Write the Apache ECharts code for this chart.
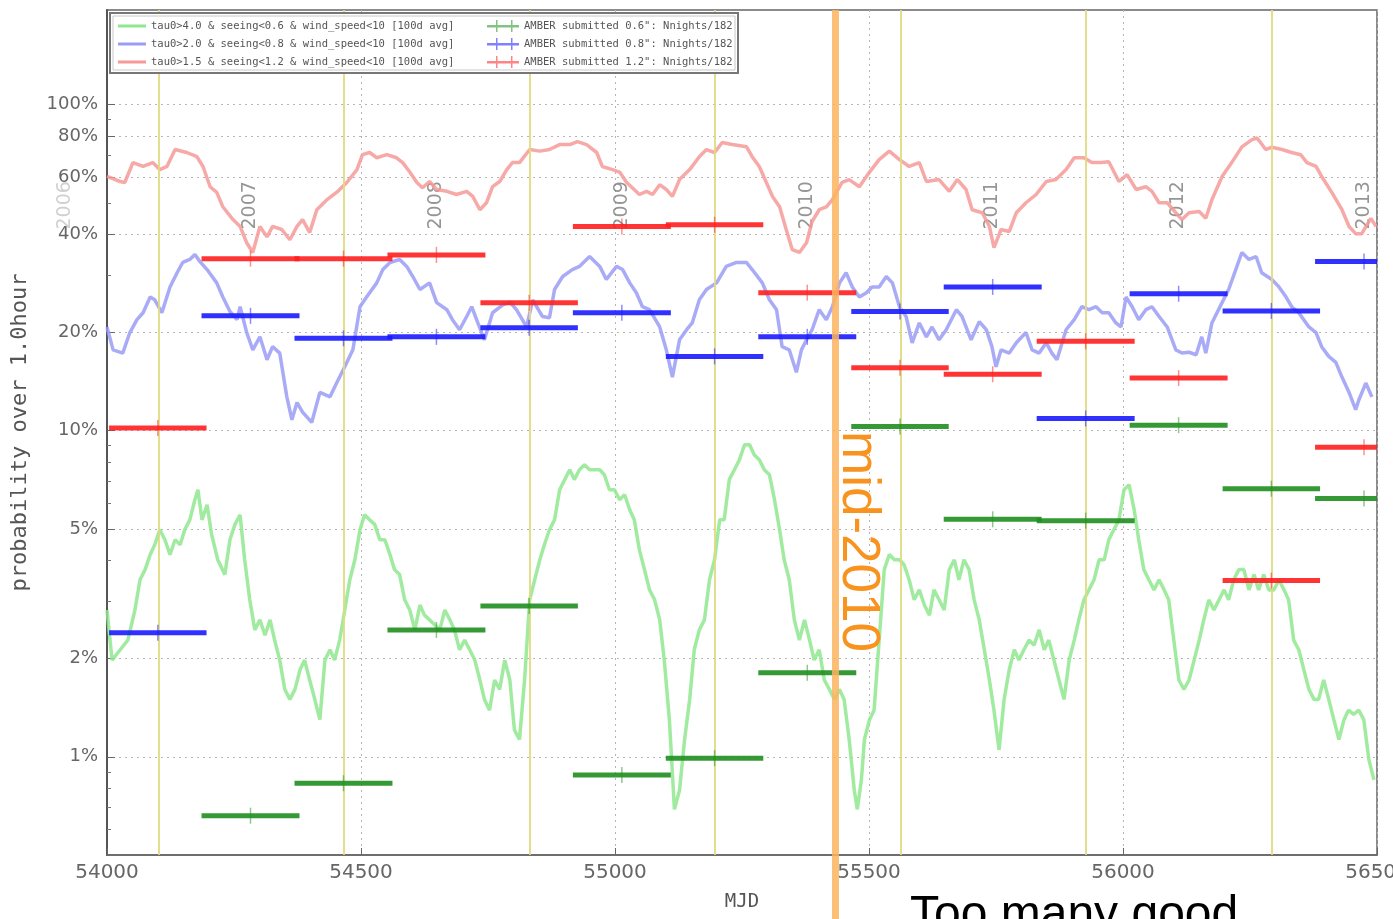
<!DOCTYPE html>
<html>
<head>
<meta charset="utf-8">
<script src="https://cdn.jsdelivr.net/npm/echarts@6/dist/echarts.min.js"></script>
<style>
  html, body { margin: 0; padding: 0; background: #fff; overflow: hidden; }
  #chart { width: 1393px; height: 919px; }
</style>
</head>
<body>
<div id="chart"></div>
<script>
// ---- 100-day running probabilities, [MJD, percent] ----
const greenCurve = [[54000,2.82],[54010,1.98],[54026,2.13],[54041,2.28],[54055,2.82],[54065,3.49],[54075,3.75],[54085,4.17],[54094,4.47],[54104,4.97],[54114,4.63],[54124,4.17],[54134,4.63],[54144,4.47],[54153,4.97],[54163,5.33],[54173,6.14],[54179,6.59],[54187,5.33],[54197,5.93],[54206,4.80],[54218,4.02],[54232,3.62],[54242,4.63],[54252,5.16],[54262,5.52],[54271,4.02],[54281,3.03],[54291,2.45],[54301,2.63],[54311,2.36],[54321,2.63],[54330,2.28],[54340,1.98],[54350,1.61],[54360,1.50],[54370,1.61],[54380,1.85],[54389,1.98],[54399,1.72],[54409,1.50],[54419,1.30],[54429,1.98],[54439,2.13],[54448,1.98],[54458,2.28],[54468,2.82],[54478,3.49],[54488,4.02],[54498,4.97],[54507,5.52],[54517,5.33],[54527,5.16],[54537,4.63],[54547,4.63],[54557,4.17],[54566,3.75],[54576,3.62],[54586,3.03],[54596,2.82],[54606,2.45],[54616,2.92],[54625,2.72],[54635,2.63],[54645,2.54],[54655,2.45],[54665,2.82],[54675,2.63],[54684,2.45],[54694,2.13],[54704,2.28],[54714,2.13],[54724,1.98],[54734,1.72],[54743,1.50],[54753,1.39],[54763,1.72],[54773,1.61],[54783,1.98],[54793,1.72],[54802,1.21],[54812,1.13],[54822,1.72],[54832,3.03],[54842,3.49],[54852,4.02],[54861,4.47],[54871,4.97],[54881,5.33],[54891,6.59],[54901,7.08],[54911,7.59],[54920,7.08],[54930,7.59],[54940,7.86],[54950,7.59],[54960,7.59],[54970,7.59],[54979,7.33],[54989,6.59],[54999,6.59],[55009,6.14],[55019,6.36],[55029,5.72],[55038,5.33],[55048,4.31],[55058,3.75],[55068,3.25],[55078,3.03],[55088,2.63],[55097,1.98],[55107,1.30],[55117,0.69],[55127,0.79],[55137,1.13],[55147,1.50],[55156,2.13],[55166,2.45],[55176,2.63],[55186,3.49],[55196,4.02],[55206,5.33],[55215,5.33],[55225,7.08],[55235,7.59],[55245,8.15],[55255,9.06],[55265,9.06],[55274,8.44],[55284,8.15],[55294,7.59],[55304,7.33],[55314,6.14],[55324,4.97],[55333,4.02],[55343,3.49],[55353,2.63],[55363,2.28],[55373,2.63],[55383,2.28],[55392,1.98],[55402,2.13],[55412,1.72],[55422,1.61],[55432,1.50],[55442,1.61],[55451,1.50],[55461,1.13],[55471,0.79],[55477,0.69],[55485,0.85],[55491,1.13],[55501,1.30],[55510,1.39],[55520,2.28],[55530,3.75],[55540,4.17],[55550,4.02],[55560,4.02],[55569,3.88],[55579,3.49],[55589,3.03],[55599,3.25],[55609,2.92],[55619,2.72],[55628,3.25],[55638,3.03],[55648,2.82],[55658,3.75],[55668,4.02],[55677,3.49],[55687,4.02],[55697,3.75],[55707,3.03],[55717,2.63],[55727,2.13],[55737,1.72],[55746,1.39],[55756,1.05],[55766,1.50],[55776,1.85],[55786,2.13],[55795,1.98],[55805,2.13],[55815,2.28],[55825,2.20],[55835,2.45],[55845,2.13],[55854,2.28],[55864,1.98],[55874,1.72],[55884,1.50],[55894,1.98],[55904,2.28],[55913,2.63],[55923,3.03],[55933,3.25],[55943,3.49],[55953,4.02],[55963,4.02],[55972,4.63],[55982,4.97],[55992,5.33],[56002,6.59],[56012,6.83],[56022,5.72],[56031,4.63],[56041,3.75],[56051,3.49],[56061,3.25],[56071,3.49],[56081,3.25],[56090,3.03],[56100,2.28],[56110,1.72],[56120,1.61],[56130,1.72],[56140,1.98],[56150,2.28],[56159,2.63],[56169,3.03],[56179,2.82],[56189,3.03],[56199,3.25],[56208,3.03],[56218,3.49],[56228,3.75],[56238,3.75],[56248,3.25],[56258,3.62],[56267,3.25],[56277,3.62],[56287,3.25],[56297,3.25],[56307,3.49],[56317,3.25],[56326,3.03],[56336,2.28],[56346,2.13],[56356,1.85],[56366,1.61],[56376,1.50],[56385,1.50],[56395,1.72],[56405,1.50],[56415,1.30],[56425,1.13],[56435,1.30],[56444,1.39],[56454,1.35],[56464,1.39],[56474,1.30],[56484,0.98],[56494,0.85]];

const blueCurve = [[54000,20.8],[54012,17.7],[54031,17.3],[54045,20.0],[54059,21.9],[54071,23.0],[54085,25.7],[54094,25.2],[54108,23.0],[54124,27.6],[54138,30.5],[54149,32.8],[54163,33.5],[54173,34.7],[54183,33.0],[54197,31.2],[54216,28.4],[54228,25.7],[54242,23.2],[54256,21.9],[54262,24.0],[54275,20.0],[54287,17.7],[54301,19.4],[54315,16.5],[54326,18.1],[54340,17.3],[54354,12.7],[54364,10.8],[54374,12.2],[54385,11.4],[54403,10.6],[54419,13.1],[54439,12.7],[54452,14.0],[54468,15.7],[54484,17.7],[54498,24.0],[54511,25.7],[54531,28.4],[54543,31.2],[54557,32.8],[54576,33.5],[54590,31.9],[54602,29.7],[54616,27.1],[54635,28.4],[54649,24.7],[54669,23.5],[54680,21.9],[54694,20.4],[54708,22.4],[54718,24.0],[54730,21.4],[54743,19.0],[54759,23.0],[54779,24.3],[54793,24.8],[54806,23.5],[54826,20.8],[54838,25.2],[54857,22.4],[54871,22.2],[54881,27.1],[54897,29.7],[54916,31.2],[54930,31.9],[54950,34.2],[54970,31.9],[54983,29.1],[55003,31.9],[55015,31.2],[55029,28.4],[55042,26.5],[55054,24.0],[55068,23.5],[55088,20.8],[55101,17.7],[55113,14.6],[55127,19.0],[55141,20.4],[55152,21.4],[55166,25.2],[55180,27.1],[55200,28.4],[55219,31.9],[55239,32.8],[55259,32.8],[55270,31.2],[55290,28.4],[55304,25.2],[55318,23.5],[55329,18.1],[55343,17.7],[55357,15.1],[55367,17.7],[55377,19.0],[55388,20.4],[55402,23.5],[55416,21.9],[55428,24.0],[55442,28.4],[55455,30.5],[55467,27.6],[55481,25.7],[55495,26.5],[55506,27.6],[55520,27.6],[55534,29.7],[55546,28.4],[55560,24.0],[55573,22.4],[55585,18.6],[55599,21.4],[55613,19.4],[55624,20.8],[55638,19.0],[55652,20.4],[55672,23.5],[55683,22.4],[55701,19.0],[55717,21.6],[55731,20.4],[55742,18.1],[55750,15.7],[55760,17.7],[55776,17.3],[55790,18.6],[55809,20.0],[55821,17.7],[55835,17.3],[55849,18.6],[55860,17.3],[55870,16.5],[55888,20.4],[55904,21.9],[55919,24.0],[55933,23.5],[55947,24.0],[55959,23.0],[55972,23.0],[55986,21.4],[55996,20.8],[56006,25.7],[56018,24.0],[56031,21.9],[56045,23.5],[56057,24.0],[56071,22.4],[56087,20.8],[56104,17.7],[56116,17.3],[56130,17.4],[56144,17.1],[56155,19.4],[56163,17.3],[56175,21.4],[56195,24.7],[56208,27.1],[56222,31.2],[56234,35.2],[56248,33.5],[56262,34.2],[56273,30.5],[56293,29.1],[56307,27.6],[56321,25.7],[56332,24.0],[56346,23.0],[56366,20.8],[56380,20.0],[56391,18.1],[56405,16.9],[56419,16.2],[56431,14.6],[56445,13.1],[56458,11.6],[56464,12.4],[56478,14.0],[56490,12.7]];

const redCurve = [[54000,60.2],[54026,58.1],[54035,57.7],[54051,66.4],[54071,64.6],[54090,66.4],[54104,63.2],[54118,64.6],[54134,72.8],[54157,71.3],[54177,69.2],[54189,64.6],[54203,56.0],[54216,53.8],[54228,48.6],[54248,44.4],[54262,42.3],[54275,37.7],[54287,35.2],[54301,42.3],[54315,39.3],[54326,42.3],[54344,41.4],[54360,38.5],[54374,42.3],[54385,44.4],[54399,40.5],[54413,47.6],[54433,51.1],[54452,53.8],[54472,57.7],[54492,63.2],[54503,70.2],[54517,71.3],[54531,68.7],[54551,70.2],[54570,68.7],[54582,66.4],[54596,62.1],[54610,57.7],[54621,55.6],[54635,58.1],[54649,54.9],[54669,54.2],[54688,53.0],[54708,54.2],[54720,52.3],[54734,47.6],[54747,50.0],[54759,56.0],[54773,58.1],[54787,63.2],[54798,66.4],[54812,66.4],[54832,72.8],[54852,72.0],[54871,72.8],[54891,75.4],[54911,75.4],[54926,77.0],[54944,75.4],[54964,71.3],[54975,64.6],[54995,63.2],[55009,62.1],[55023,57.7],[55034,55.6],[55048,53.0],[55062,54.2],[55074,53.0],[55088,56.8],[55101,54.9],[55113,52.3],[55127,58.9],[55147,63.2],[55166,69.2],[55180,72.8],[55196,71.3],[55211,76.5],[55231,75.4],[55259,74.2],[55270,69.2],[55284,64.6],[55298,57.7],[55310,52.3],[55324,48.6],[55337,41.4],[55349,35.9],[55363,35.2],[55377,37.7],[55388,43.8],[55402,47.6],[55416,48.6],[55428,51.1],[55447,57.7],[55461,58.9],[55481,56.0],[55501,62.1],[55520,67.8],[55540,72.0],[55560,67.8],[55579,64.6],[55599,66.4],[55613,58.1],[55638,58.9],[55658,54.2],[55674,58.9],[55691,54.9],[55703,47.6],[55723,46.6],[55737,42.3],[55746,36.4],[55760,41.4],[55776,40.8],[55790,46.6],[55809,50.0],[55829,53.0],[55849,58.1],[55868,58.9],[55888,63.2],[55904,68.7],[55923,68.7],[55939,66.4],[55957,66.4],[55972,66.8],[55992,58.1],[56008,61.0],[56026,54.9],[56045,56.0],[56057,54.2],[56071,50.0],[56087,50.0],[56104,46.6],[56116,44.4],[56130,46.6],[56150,47.0],[56163,44.8],[56175,51.1],[56195,60.2],[56214,66.4],[56234,74.2],[56254,78.1],[56264,79.0],[56281,72.8],[56293,74.0],[56313,72.8],[56332,71.3],[56350,70.2],[56362,66.4],[56380,64.6],[56391,60.2],[56411,53.8],[56431,47.6],[56445,42.3],[56458,40.2],[56470,40.2],[56488,44.8],[56498,42.3]];

// ---- AMBER submissions per semester (percent of 182 nights) ----
const semesterEdges = [54009, 54191, 54374, 54557, 54740, 54922, 55105, 55287, 55470, 55652, 55835, 56018, 56201, 56383, 56566];
const amberGreen = [null, 0.66, 0.83, 2.45, 2.9, 0.88, 0.99, 1.81, 10.3, 5.35, 5.3, 10.4, 6.64, 6.2];
const amberBlue  = [2.4, 22.5, 19.2, 19.4, 20.7, 23.0, 16.9, 19.4, 23.2, 27.6, 10.9, 26.3, 23.3, 33.0];
const amberRed   = [10.2, 33.7, 33.7, 34.6, 24.7, 42.3, 42.8, 26.5, 15.6, 14.9, 18.8, 14.5, 3.47, 8.9];

// ---- calendar markers ----
const yearStarts = [54101, 54466, 54832, 55197, 55562, 55927, 56293];
const yearNames  = ['2006', '2007', '2008', '2009', '2010', '2011', '2012', '2013'];
const yearMids   = [53917, 54282, 54647, 55013, 55378, 55743, 56108, 56474];
const yearLabelLevel = 41.4;   // percent, lower end of the year captions
const mid2010Mjd = 55434;

// ---- axis ticks ----
const xMin = 54000, xMax = 56500, xStep = 500;
const yMinPct = 0.5, yMaxPct = 195;
const yTickPct = [100, 80, 60, 40, 20, 10, 5, 2, 1];
const yMinorTickPct = [90, 70, 50, 30, 9, 8, 7, 6, 4, 3, 0.9, 0.8, 0.7, 0.6];

const seriesNames = {
  green: 'tau0>4.0 & seeing<0.6 & wind_speed<10 [100d avg]',
  blue:  'tau0>2.0 & seeing<0.8 & wind_speed<10 [100d avg]',
  red:   'tau0>1.5 & seeing<1.2 & wind_speed<10 [100d avg]',
  amberGreen: 'AMBER submitted 0.6": Nnights/182',
  amberBlue:  'AMBER submitted 0.8": Nnights/182',
  amberRed:   'AMBER submitted 1.2": Nnights/182'
};

// percent -> log10(fraction), the y axis works in decades
const toLog = p => Math.log10(p / 100);
const curve = pairs => pairs.map(([m, p]) => [m, toLog(p)]);

function curveSeries(name, pairs, color) {
  return {
    type: 'line', name, data: curve(pairs), color,
    showSymbol: false, symbol: 'none', smooth: false, z: 3,
    lineStyle: { color, width: 3.5, opacity: 0.85 },
    silent: true, animation: false
  };
}

function amberSeries(name, values, color) {
  const data = [];
  values.forEach((v, i) => {
    if (v != null) data.push([semesterEdges[i], semesterEdges[i + 1], toLog(v)]);
  });
  return {
    type: 'custom', name, data, color, clip: true, z: 5, silent: true, animation: false,
    encode: { x: [0, 1], y: 2 },
    renderItem(params, api) {
      const a = api.coord([api.value(0), api.value(2)]);
      const b = api.coord([api.value(1), api.value(2)]);
      const cx = (a[0] + b[0]) / 2;
      return {
        type: 'group',
        children: [
          { type: 'line', shape: { x1: a[0], y1: a[1], x2: b[0], y2: b[1] },
            style: { stroke: color, lineWidth: 5, lineCap: 'square', opacity: 0.9 } },
          { type: 'line', shape: { x1: cx, y1: a[1] - 8, x2: cx, y2: a[1] + 8 },
            style: { stroke: color, lineWidth: 1.5, opacity: 0.5 } }
        ]
      };
    }
  };
}

const yearLabelData = yearNames.map((n, i) => ({
  name: n,
  value: [yearMids[i], toLog(yearLabelLevel)],
  label: { color: yearMids[i] < xMin ? '#c4c4c4' : '#7a7a7a' }
}));

const chart = echarts.init(document.getElementById('chart'), null, { renderer: 'canvas' });

const errorbarIcon = 'path://M0,5H32V7.5H0Z M9,0H10.5V12H9Z M24,0H25.5V12H24Z';
const legendText = { fontFamily: 'DejaVu Sans Mono', fontSize: 10.5, color: '#555', lineHeight: 12 };
const gridLine = { show: true, lineStyle: { color: '#b5b5b5', type: [2, 4], width: 1 } };

chart.setOption({
  animation: false,
  backgroundColor: '#fff',
  grid: {
    left: 107, right: 16, top: 10, bottom: 64, outerBoundsMode: 'none', containLabel: false,
    show: true, borderColor: '#666', borderWidth: 1.5, backgroundColor: 'transparent'
  },
  xAxis: {
    type: 'value', min: xMin, max: xMax, interval: xStep,
    name: 'MJD', nameLocation: 'middle', nameGap: 38,
    nameTextStyle: { fontFamily: 'DejaVu Sans Mono', fontSize: 19, color: '#555' },
    axisLine: { show: true, onZero: false, lineStyle: { color: '#666', width: 1.5 } },
    axisTick: { show: true, inside: true, length: 7, lineStyle: { color: '#666' } },
    axisLabel: { formatter: v => String(v), fontFamily: 'DejaVu Sans', fontSize: 20, color: '#666', margin: 8 },
    splitLine: gridLine
  },
  yAxis: [
    {
      type: 'value', min: toLog(yMinPct), max: toLog(yMaxPct),
      name: 'probability over 1.0hour', nameLocation: 'middle', nameGap: 76, nameRotate: 90,
      nameTextStyle: { fontFamily: 'DejaVu Sans Mono', fontSize: 22, color: '#555' },
      axisLine: { show: true, onZero: false, lineStyle: { color: '#555', width: 2 } },
      axisTick: { show: true, inside: true, length: 8, customValues: yTickPct.map(toLog), lineStyle: { color: '#666' } },
      axisLabel: {
        customValues: yTickPct.map(toLog),
        formatter: v => Math.round(Math.pow(10, v) * 100) + '%',
        fontFamily: 'DejaVu Sans', fontSize: 18, color: '#666', margin: 9
      },
      splitLine: gridLine
    },
    {
      // minor decade ticks, no labels
      type: 'value', position: 'left', min: toLog(yMinPct), max: toLog(yMaxPct),
      axisLine: { show: false, onZero: false },
      axisTick: { show: true, inside: true, length: 4, customValues: yMinorTickPct.map(toLog), lineStyle: { color: '#777' } },
      axisLabel: { show: false },
      splitLine: { show: false }
    }
  ],
  legend: [
    {
      data: [seriesNames.green, seriesNames.blue, seriesNames.red],
      orient: 'vertical', left: 113, top: 15, itemGap: 6, itemWidth: 28, itemHeight: 3,
      icon: 'rect', textStyle: legendText, z: 10, selectedMode: false
    },
    {
      data: [seriesNames.amberGreen, seriesNames.amberBlue, seriesNames.amberRed],
      orient: 'vertical', left: 482, top: 15, itemGap: 6, itemWidth: 32, itemHeight: 12,
      icon: errorbarIcon, textStyle: legendText, z: 10, selectedMode: false,
      itemStyle: { opacity: 0.55 }
    }
  ],
  series: [
    {
      type: 'scatter', name: 'years', data: yearLabelData, symbolSize: 0, clip: false, silent: true, z: 1,
      label: {
        show: true, position: 'inside', formatter: p => p.name, rotate: 90,
        align: 'left', verticalAlign: 'middle', fontFamily: 'DejaVu Sans', fontSize: 19
      },
      markLine: {
        symbol: 'none', silent: true, animation: false, label: { show: false },
        lineStyle: { color: '#e0da80', width: 2, type: 'solid', opacity: 0.9 },
        data: yearStarts.map(m => ({ xAxis: m }))
      }
    },
    curveSeries(seriesNames.green, greenCurve, '#8fe88f'),
    curveSeries(seriesNames.blue, blueCurve, '#9a9cf6'),
    curveSeries(seriesNames.red, redCurve, '#f49a98'),
    amberSeries(seriesNames.amberGreen, amberGreen, '#1f8f1f'),
    amberSeries(seriesNames.amberBlue, amberBlue, '#1a1aff'),
    amberSeries(seriesNames.amberRed, amberRed, '#ff1f1f')
  ]
});

// legend frame, the mid-2010 marker and the caption underneath
function drawOverlay() {
  const lineX = chart.convertToPixel({ xAxisIndex: 0 }, mid2010Mjd);
  const gridTop = chart.convertToPixel({ yAxisIndex: 0 }, toLog(yMaxPct));
  chart.setOption({
    graphic: [
      { type: 'rect', z: 8, silent: true, shape: { x: 110, y: 13, width: 628, height: 60 },
        style: { fill: '#fff', stroke: '#777', lineWidth: 2 } },
      { type: 'rect', z: 8, silent: true, shape: { x: 113, y: 16, width: 622, height: 54 },
        style: { fill: 'none', stroke: '#c8c8c8', lineWidth: 1 } },
      { type: 'line', z: 20, silent: true, shape: { x1: lineX, y1: gridTop, x2: lineX, y2: 919 },
        style: { stroke: '#fbb460', lineWidth: 7, opacity: 0.85 } },
      { type: 'text', z: 21, silent: true, x: lineX + 22, y: 431, rotation: -Math.PI / 2,
        style: { text: 'mid-2010', fill: '#f7931e', fontFamily: 'Liberation Sans', fontSize: 53,
                 align: 'left', verticalAlign: 'middle' } },
      { type: 'text', z: 21, silent: true, x: 910, y: 892,
        style: { text: 'Too many good', fill: '#000', fontFamily: 'Liberation Sans', fontSize: 48,
                 align: 'left', verticalAlign: 'top' } }
    ]
  });
}
drawOverlay();
</script>
</body>
</html>
